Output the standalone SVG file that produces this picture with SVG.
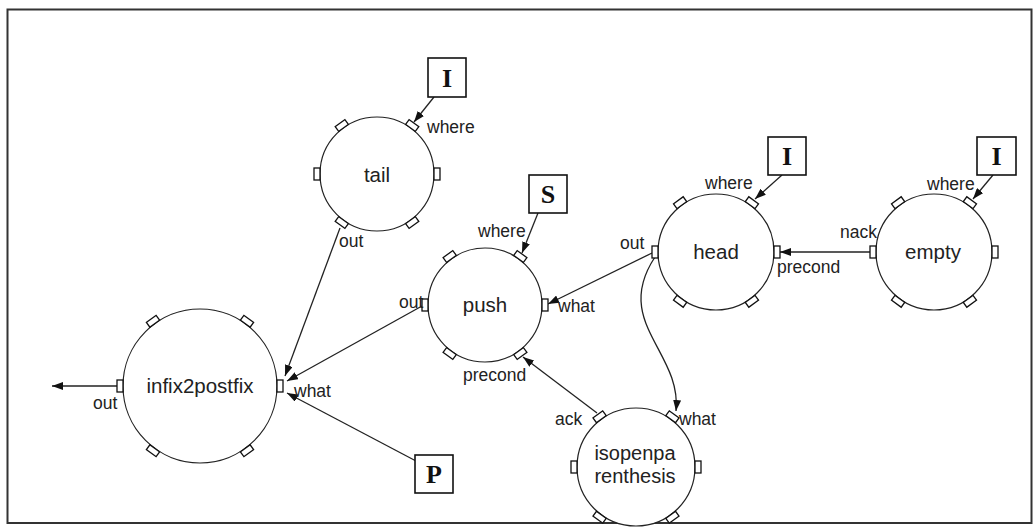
<svg xmlns="http://www.w3.org/2000/svg" width="1034" height="527" viewBox="0 0 1034 527">
  <style>
    .frame { fill: #fff; stroke: #333; stroke-width: 2; }
    .node { fill: #fff; stroke: #222; stroke-width: 1.2; }
    .port { fill: #fff; stroke: #111; stroke-width: 1.3; }
    .name { font-family: "Liberation Sans", Arial, sans-serif; font-size: 20.5px; fill: #222; text-anchor: middle; }
    .lbl { font-family: "Liberation Sans", Arial, sans-serif; font-size: 17.5px; fill: #222; }
    .box { fill: #fff; stroke: #111; stroke-width: 1.6; }
    .boxtxt { font-family: "Liberation Serif", "Times New Roman", serif; font-size: 26px; font-weight: bold; fill: #111; text-anchor: middle; }
    .wire { fill: none; stroke: #222; stroke-width: 1.3; marker-end: url(#arrow); }
  </style>
  <defs>
    <marker id="arrow" viewBox="0 0 11 8" refX="11" refY="4" markerWidth="11" markerHeight="8" markerUnits="userSpaceOnUse" orient="auto">
      <path d="M0,0 L11,4 L0,8 Z" fill="#111"/>
    </marker>
    <!-- port glyph: radial depth 6, tangential length 12 -->
    <rect id="p" x="-3" y="-6" width="6" height="12" class="port"/>
  </defs>

  <rect class="frame" x="7.5" y="9.5" width="1024" height="513.5"/>

  <g id="connectors">
    <line class="wire" x1="434" y1="97" x2="414" y2="122"/>
    <line class="wire" x1="340" y1="228" x2="285" y2="376"/>
    <line class="wire" x1="422" y1="306" x2="287" y2="381"/>
    <line class="wire" x1="416" y1="461" x2="287" y2="393"/>
    <line class="wire" x1="538" y1="213" x2="522" y2="253"/>
    <line class="wire" x1="652" y1="253" x2="548" y2="304"/>
    <path class="wire" d="M655,257 C612,322 682,352 676,411"/>
    <line class="wire" x1="597" y1="413" x2="523" y2="357"/>
    <line class="wire" x1="870" y1="252" x2="780" y2="252"/>
    <line class="wire" x1="782" y1="175" x2="755" y2="199"/>
    <line class="wire" x1="993" y1="175" x2="973" y2="199"/>
    <line class="wire" x1="117" y1="386" x2="52" y2="386"/>
  </g>

  <g id="tail">
    <circle class="node" cx="377" cy="174" r="57"/>
    <use href="#p" x="437" y="174"/>
    <use href="#p" x="317" y="174"/>
    <use href="#p" transform="translate(412.2,125.5) rotate(-54)"/>
    <use href="#p" transform="translate(341.8,125.5) rotate(54)"/>
    <use href="#p" transform="translate(412.2,222.5) rotate(54)"/>
    <use href="#p" transform="translate(341.8,222.5) rotate(-54)"/>
    <text class="name" x="377" y="182">tail</text>
    <text class="lbl" x="427" y="133">where</text>
    <text class="lbl" x="339" y="247">out</text>
  </g>

  <g id="push">
    <circle class="node" cx="485" cy="305" r="57"/>
    <use href="#p" x="545" y="305"/>
    <use href="#p" x="425" y="305"/>
    <use href="#p" transform="translate(520.3,256.5) rotate(-54)"/>
    <use href="#p" transform="translate(449.7,256.5) rotate(54)"/>
    <use href="#p" transform="translate(520.3,353.5) rotate(54)"/>
    <use href="#p" transform="translate(449.7,353.5) rotate(-54)"/>
    <text class="name" x="485" y="312">push</text>
    <text class="lbl" x="478" y="237">where</text>
    <text class="lbl" x="399" y="308">out</text>
    <text class="lbl" x="558" y="312">what</text>
    <text class="lbl" x="463" y="381">precond</text>
  </g>

  <g id="head">
    <circle class="node" cx="716" cy="252" r="58"/>
    <use href="#p" x="777" y="252"/>
    <use href="#p" x="655" y="252"/>
    <use href="#p" transform="translate(751.9,202.7) rotate(-54)"/>
    <use href="#p" transform="translate(680.1,202.7) rotate(54)"/>
    <use href="#p" transform="translate(751.9,301.3) rotate(54)"/>
    <use href="#p" transform="translate(680.1,301.3) rotate(-54)"/>
    <text class="name" x="716" y="259">head</text>
    <text class="lbl" x="705" y="189">where</text>
    <text class="lbl" x="620" y="249">out</text>
    <text class="lbl" x="777" y="273">precond</text>
  </g>

  <g id="empty">
    <circle class="node" cx="934" cy="252" r="58"/>
    <use href="#p" x="995" y="252"/>
    <use href="#p" x="873" y="252"/>
    <use href="#p" transform="translate(969.9,202.7) rotate(-54)"/>
    <use href="#p" transform="translate(898.1,202.7) rotate(54)"/>
    <use href="#p" transform="translate(969.9,301.3) rotate(54)"/>
    <use href="#p" transform="translate(898.1,301.3) rotate(-54)"/>
    <text class="name" x="933" y="259">empty</text>
    <text class="lbl" x="927" y="190">where</text>
    <text class="lbl" x="840" y="238">nack</text>
  </g>

  <g id="infix2postfix">
    <circle class="node" cx="200" cy="386" r="77"/>
    <use href="#p" x="280" y="386"/>
    <use href="#p" x="120" y="386"/>
    <use href="#p" transform="translate(247,321.3) rotate(-54)"/>
    <use href="#p" transform="translate(153,321.3) rotate(54)"/>
    <use href="#p" transform="translate(247,450.7) rotate(54)"/>
    <use href="#p" transform="translate(153,450.7) rotate(-54)"/>
    <text class="name" x="200" y="393">infix2postfix</text>
    <text class="lbl" x="93" y="409">out</text>
    <text class="lbl" x="294" y="397">what</text>
  </g>

  <g id="isopenparenthesis">
    <circle class="node" cx="636" cy="467" r="59"/>
    <use href="#p" x="698" y="467"/>
    <use href="#p" x="574" y="467"/>
    <use href="#p" transform="translate(672.4,416.8) rotate(-54)"/>
    <use href="#p" transform="translate(599.6,416.8) rotate(54)"/>
    <use href="#p" transform="translate(672.4,517.2) rotate(54)"/>
    <use href="#p" transform="translate(599.6,517.2) rotate(-54)"/>
    <text class="name" x="635" y="460" style="font-size:20px">isopenpa</text>
    <text class="name" x="635" y="483" style="font-size:20px">renthesis</text>
    <text class="lbl" x="555" y="425">ack</text>
    <text class="lbl" x="679" y="425">what</text>
  </g>

  <g id="in-tail">
    <rect class="box" x="428" y="58" width="38" height="39"/>
    <text class="boxtxt" x="447" y="87">I</text>
  </g>
  <g id="in-push">
    <rect class="box" x="529" y="175" width="38" height="38"/>
    <text class="boxtxt" x="548" y="203">S</text>
  </g>
  <g id="in-head">
    <rect class="box" x="768" y="137" width="38" height="38"/>
    <text class="boxtxt" x="787" y="165">I</text>
  </g>
  <g id="in-empty">
    <rect class="box" x="977" y="137" width="39" height="38"/>
    <text class="boxtxt" x="996.5" y="165">I</text>
  </g>
  <g id="in-infix">
    <rect class="box" x="415" y="455" width="38" height="38"/>
    <text class="boxtxt" x="434" y="483">P</text>
  </g>
</svg>
